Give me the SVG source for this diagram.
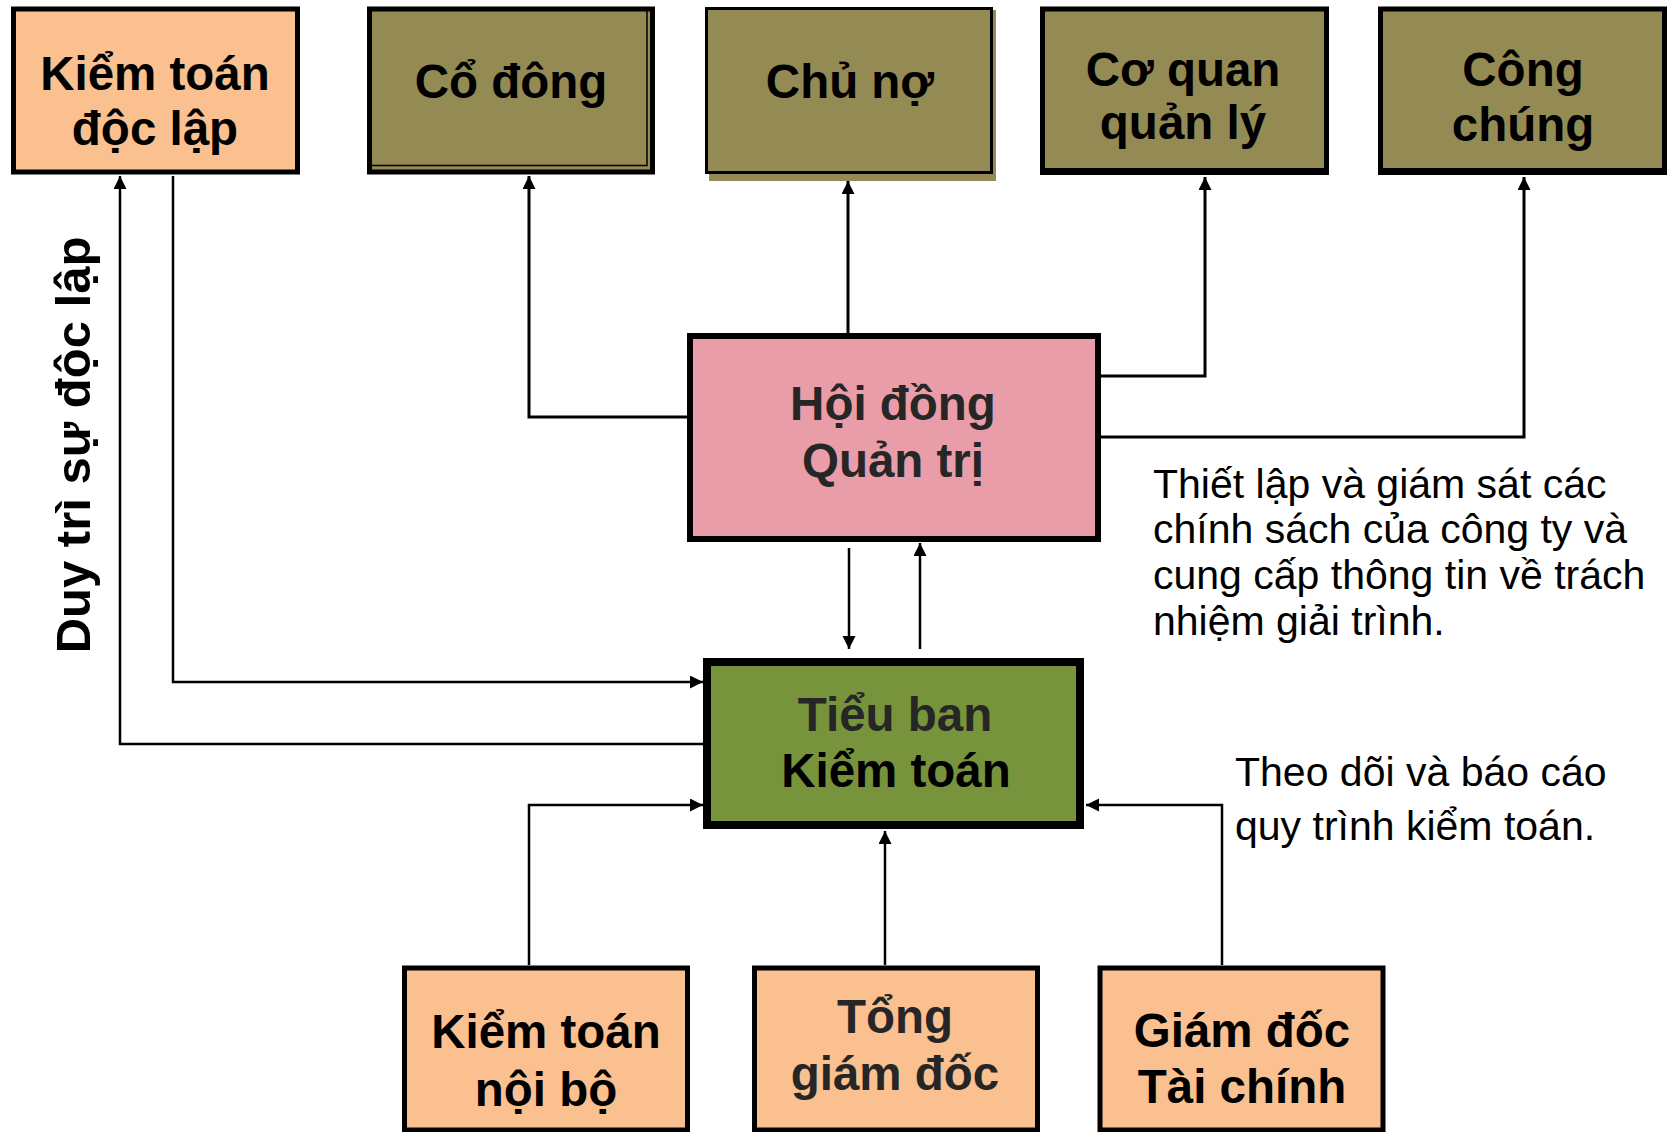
<svg xmlns="http://www.w3.org/2000/svg" width="1669" height="1132" viewBox="0 0 1669 1132">
<defs>
<style>
.lbl{font-family:"Liberation Sans",Arial,sans-serif;font-weight:bold;font-size:47.5px;text-anchor:middle;fill:#000}
.dk{fill:#262626}
.note{font-family:"Liberation Sans",Arial,sans-serif;font-size:41px;fill:#000}
.peach{fill:#FAC090;stroke:#000;stroke-width:5}
.olive{fill:#948A54;stroke:#000;stroke-width:5}
.con{fill:none;stroke:#000;stroke-width:2.5}
</style>
<marker id="arr" markerUnits="userSpaceOnUse" markerWidth="14" markerHeight="14" refX="13" refY="6.5" orient="auto">
<path d="M0,0 L13,6.5 L0,13 z" fill="#000"/>
</marker>
</defs>
<rect width="1669" height="1132" fill="#fff"/>

<g id="connectors">
<polyline class="con" points="706,744 120,744 120,176" marker-end="url(#arr)"/>
<polyline class="con" points="173,176 173,682 703,682" marker-end="url(#arr)"/>
<polyline class="con" points="687,417 529,417 529,176" marker-end="url(#arr)" style="stroke-width:3"/>
<polyline class="con" points="848,333 848,181" marker-end="url(#arr)" style="stroke-width:3"/>
<polyline class="con" points="1101,376 1205,376 1205,177" marker-end="url(#arr)" style="stroke-width:3"/>
<polyline class="con" points="1101,437 1524,437 1524,177" marker-end="url(#arr)" style="stroke-width:3"/>
<polyline class="con" points="849,548 849,649" marker-end="url(#arr)"/>
<polyline class="con" points="920,649 920,543" marker-end="url(#arr)"/>
<polyline class="con" points="529,965 529,805 703,805" marker-end="url(#arr)"/>
<polyline class="con" points="885,965 885,831" marker-end="url(#arr)"/>
<polyline class="con" points="1222,965 1222,805 1086,805" marker-end="url(#arr)"/>
</g>

<g id="kiem-toan-doc-lap">
<rect class="peach" x="13.5" y="9" width="284" height="163"/>
<text class="lbl" x="155" y="89.5">Kiểm toán</text>
<text class="lbl" x="155" y="145">độc lập</text>
</g>

<g id="co-dong">
<rect class="olive" x="369.5" y="9" width="283" height="163"/>
<path d="M372,165.5 H647 V11" fill="none" stroke="#000" stroke-width="1.5"/>
<text class="lbl" x="511" y="98">Cổ đông</text>
</g>

<g id="chu-no">
<rect x="709" y="10" width="287" height="171" fill="#948A54"/>
<rect x="706.5" y="8.5" width="285" height="164" fill="#948A54" stroke="#000" stroke-width="3"/>
<text class="lbl" x="850" y="98">Chủ nợ</text>
</g>

<g id="co-quan-quan-ly">
<rect class="olive" x="1042.5" y="9" width="284" height="163"/>
<rect x="1040" y="168" width="289" height="7" fill="#000"/>
<text class="lbl" x="1183" y="86">Cơ quan</text>
<text class="lbl" x="1183" y="139">quản lý</text>
</g>

<g id="cong-chung">
<rect class="olive" x="1380.5" y="9" width="284" height="163"/>
<rect x="1378" y="168" width="289" height="7" fill="#000"/>
<text class="lbl" x="1523" y="86">Công</text>
<text class="lbl" x="1523" y="141">chúng</text>
</g>

<g id="hoi-dong-quan-tri">
<rect x="690" y="336" width="408" height="203" fill="#E99DA9" stroke="#000" stroke-width="6"/>
<text class="lbl dk" x="893" y="420">Hội đồng</text>
<text class="lbl dk" x="893" y="477">Quản trị</text>
</g>

<g id="tieu-ban-kiem-toan">
<rect x="707" y="662" width="373" height="163" fill="#77933C" stroke="#000" stroke-width="8"/>
<text class="lbl dk" x="895" y="731">Tiểu ban</text>
<text class="lbl" x="896" y="787">Kiểm toán</text>
</g>

<g id="kiem-toan-noi-bo">
<rect class="peach" x="404.5" y="968" width="283" height="162"/>
<text class="lbl" x="546" y="1048">Kiểm toán</text>
<text class="lbl" x="546" y="1106">nội bộ</text>
</g>

<g id="tong-giam-doc">
<rect class="peach" x="754.5" y="968" width="283" height="162"/>
<text class="lbl dk" x="895" y="1033">Tổng</text>
<text class="lbl dk" x="895" y="1090">giám đốc</text>
</g>

<g id="giam-doc-tai-chinh">
<rect class="peach" x="1100" y="968" width="283" height="162"/>
<text class="lbl" x="1242" y="1047">Giám đốc</text>
<text class="lbl" x="1242" y="1103">Tài chính</text>
</g>

<g id="labels">
<text class="lbl" transform="translate(90,445) rotate(-90)" style="font-size:49px">Duy trì sự độc lập</text>
<text class="note" x="1153" y="498">Thiết lập và giám sát các</text>
<text class="note" x="1153" y="543">chính sách của công ty và</text>
<text class="note" x="1153" y="589">cung cấp thông tin về trách</text>
<text class="note" x="1153" y="635">nhiệm giải trình.</text>
<text class="note" x="1235" y="786">Theo dõi và báo cáo</text>
<text class="note" x="1235" y="840">quy trình kiểm toán.</text>
</g>
</svg>
